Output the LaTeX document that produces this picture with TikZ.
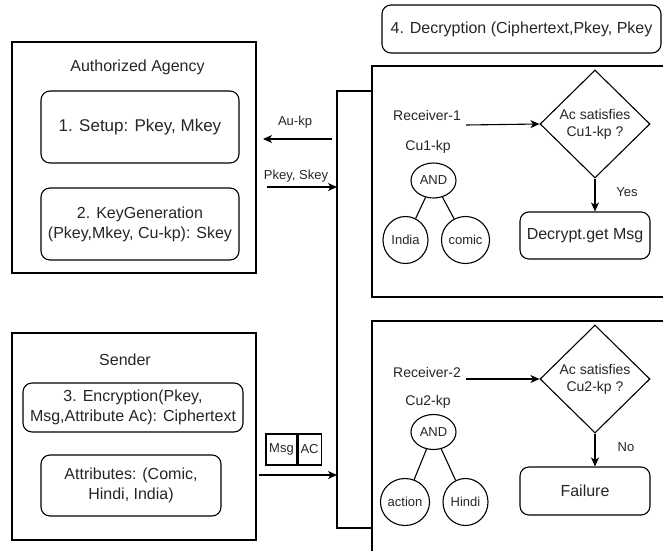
\documentclass[tikz,border=0pt]{standalone}
\usepackage{fontspec}
\setmainfont{Liberation Sans}
\usetikzlibrary{shapes.geometric,arrows.meta}

\begin{document}
\begin{tikzpicture}[x=1pt, y=-1pt, line width=1.1pt,
  every node/.style={text=black!85},
  panel/.style={draw, inner sep=0pt},
  rbox/.style={draw, rounded corners=9pt, align=center, inner sep=0pt,
               font=\fontsize{16}{20}\selectfont},
  lbl/.style={inner sep=0pt, font=\fontsize{13}{15}\selectfont},
  mid/.style={inner sep=0pt, font=\fontsize{14}{16}\selectfont},
  leaf/.style={draw, ellipse, inner sep=0pt, minimum width=45pt,
               minimum height=47pt, font=\fontsize{13}{15}\selectfont},
  gate/.style={draw, ellipse, inner sep=0pt, minimum width=45pt,
               minimum height=35pt, font=\fontsize{13}{15}\selectfont},
  check/.style={draw, diamond, inner sep=0pt, minimum width=110pt,
                minimum height=108pt, align=center,
                font=\fontsize{14}{17}\selectfont},
  cell/.style={draw, inner sep=0pt, minimum height=31pt,
               font=\fontsize{13}{15}\selectfont},
  arr/.style={-{Stealth[length=9pt,width=8pt,inset=2.5pt]}}]

% canvas
\path[use as bounding box, fill=white] (0,0) rectangle (663,551);

% ---- Authorized agency ----
\node[panel, minimum width=244pt, minimum height=231pt] (auth) at (134,157.5) {};
\node[inner sep=0pt, font=\fontsize{16}{19}\selectfont] (authT) at (137.5,67) {Authorized Agency};
\node[rbox, minimum width=198pt, minimum height=72pt,
      font=\fontsize{17}{20}\selectfont] (setup) at (140,127) {1. Setup: Pkey, Mkey};
\node[rbox, minimum width=198pt, minimum height=72pt] (keygen) at (140,224)
  {2. KeyGeneration\\(Pkey,Mkey, Cu-kp): Skey};

% ---- Sender ----
\node[panel, minimum width=244pt, minimum height=207pt] (sender) at (134,436.5) {};
\node[inner sep=0pt, font=\fontsize{16}{19}\selectfont] (senderT) at (125,360) {Sender};
\node[rbox, minimum width=220pt, minimum height=49pt] (enc) at (133,407.5)
  {3. Encryption(Pkey,\\Msg,Attribute Ac): Ciphertext};
\node[rbox, minimum width=180pt, minimum height=61pt] (attr) at (131,485.5)
  {Attributes: (Comic,\\Hindi, India)};
\node[cell, minimum width=31pt] (msg) at (281.5,449.5) {Msg};
\node[cell, minimum width=23pt, anchor=west] (ac) at (msg.east) {AC};

% ---- Decryption header ----
\node[rbox, minimum width=279pt, minimum height=48pt] (dec) at (521.5,29)
  {4. Decryption (Ciphertext,Pkey, Pkey};

% ---- receiver panels (open on the right) ----
\draw (663,66) -- (372,66) -- (372,297) -- (663,297);
\draw (663,321) -- (372,321) -- (372,551);

% ---- distribution bus ----
\coordinate (busTop) at (337,91);
\coordinate (busBot) at (337,528);
\draw (372,91) -- (busTop) -- (busBot) -- (372,528);

% arrows between the agency and the bus
\coordinate (aukpFrom) at (332,139);
\coordinate (aukpTo) at (263,139);
\draw[arr] (aukpFrom) -- (aukpTo);
\node[lbl] (aukp) at (295,122) {Au-kp};
\coordinate (skFrom) at (267,187);
\coordinate (skTo) at (337,187);
\draw[arr] (skFrom) -- (skTo);
\node[lbl] (pkey) at (296,176) {Pkey, Skey};

% ciphertext to the bus
\coordinate (ctFrom) at (259,475);
\coordinate (ctTo) at (337,475);
\draw[arr] (ctFrom) -- (ctTo);

% ---- Receiver 1 ----
\node[mid] (r1) at (427,115) {Receiver-1};
\node[check] (d1) at (595,124) {Ac satisfies\\Cu1-kp ?};
\coordinate (r1out) at (466,125);
\draw[arr] (r1out) -- (d1.west);
\node[mid] (cu1) at (428,147) {Cu1-kp};
\node[gate] (and1) at (433.5,180.5) {AND};
\node[leaf] (india) at (405.5,240) {India};
\node[leaf] (comic) at (465.5,240) {comic};
\draw (and1) -- (india);
\draw (and1) -- (comic);
\node[rbox, minimum width=130pt, minimum height=47pt] (get) at (585,235.5) {Decrypt.get Msg};
\draw[arr] (d1.south) -- (d1.south |- get.north);
\node[lbl] (yes) at (627,192) {Yes};

% ---- Receiver 2 ----
\node[mid] (r2) at (427,372) {Receiver-2};
\node[check] (d2) at (595,379) {Ac satisfies\\Cu2-kp ?};
\coordinate (r2out) at (466,379);
\draw[arr] (r2out) -- (d2.west);
\node[mid] (cu2) at (428,402) {Cu2-kp};
\node[gate] (and2) at (433.5,432) {AND};
\node[leaf] (action) at (405,502) {action};
\node[leaf] (hindi) at (465.5,502) {Hindi};
\draw (and2) -- (action);
\draw (and2) -- (hindi);
\node[rbox, minimum width=130pt, minimum height=48pt] (fail) at (585,491) {Failure};
\draw[arr] (d2.south) -- (d2.south |- fail.north);
\node[lbl] (no) at (626,447) {No};

\end{tikzpicture}
\end{document}
